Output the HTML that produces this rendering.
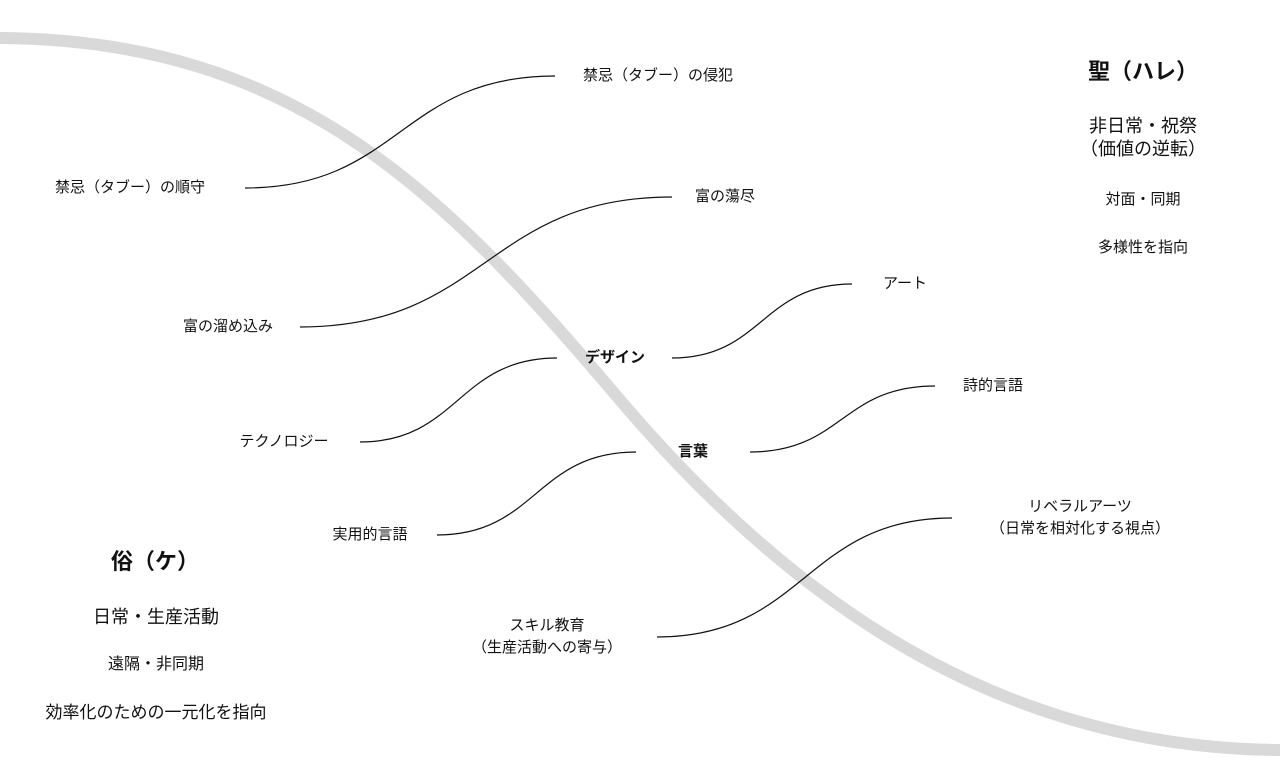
<!DOCTYPE html>
<html><head><meta charset="utf-8"><style>
html,body{margin:0;padding:0;background:#fff;}
#c{position:relative;width:1280px;height:772px;overflow:hidden;font-family:"Liberation Sans","Noto Sans CJK JP",sans-serif;color:#111;}
.t{position:absolute;transform:translate(-50%,-50%);white-space:nowrap;text-align:center;font-size:15px;line-height:22px;}
.b{font-weight:bold;}
svg{position:absolute;left:0;top:0;}
</style></head><body><div id="c">
<svg width="1280" height="772">
<path d="M-5,38 C300,38 450,200 620,400 S1000,750 1285,750" fill="none" stroke="#d9d9d9" stroke-width="12"/>
<g fill="none" stroke="#111" stroke-width="1.2">
<path d="M245,188 C400,188 400,76 555,76"/>
<path d="M300,327 C486,327 486,197 672,197"/>
<path d="M360,442 C458,442 458,358 557,358"/>
<path d="M672,358 C762,358 762,284 852,284"/>
<path d="M437,535 C536,535 536,452 636,452"/>
<path d="M750,452 C842,452 842,386 935,386"/>
<path d="M657,637 C805,637 805,518 952,518"/>
</g></svg>
<div class="t" style="left:658px;top:76px">禁忌（タブー）の侵犯</div>
<div class="t" style="left:130px;top:188px">禁忌（タブー）の順守</div>
<div class="t" style="left:725px;top:197px">富の蕩尽</div>
<div class="t" style="left:228px;top:327px">富の溜め込み</div>
<div class="t" style="left:905px;top:284px">アート</div>
<div class="t b" style="left:615px;top:358px">デザイン</div>
<div class="t" style="left:284px;top:442px">テクノロジー</div>
<div class="t" style="left:993px;top:386px">詩的言語</div>
<div class="t b" style="left:693px;top:452px">言葉</div>
<div class="t" style="left:370px;top:535px">実用的言語</div>
<div class="t" style="left:1080px;top:518px">リベラルアーツ<br>（日常を相対化する視点）</div>
<div class="t" style="left:547px;top:637px">スキル教育<br>（生産活動への寄与）</div>
<div class="t b" style="left:1143px;top:72px;font-size:22px">聖（ハレ）</div>
<div class="t" style="left:1143px;top:138px;font-size:18px;line-height:23px">非日常・祝祭<br>（価値の逆転）</div>
<div class="t" style="left:1143px;top:200px">対面・同期</div>
<div class="t" style="left:1143px;top:248px">多様性を指向</div>
<div class="t b" style="left:155px;top:562px;font-size:22px">俗（ケ）</div>
<div class="t" style="left:156px;top:617px;font-size:18px">日常・生産活動</div>
<div class="t" style="left:156px;top:665px;font-size:16px">遠隔・非同期</div>
<div class="t" style="left:156px;top:713px;font-size:17px">効率化のための一元化を指向</div>
</div></body></html>
